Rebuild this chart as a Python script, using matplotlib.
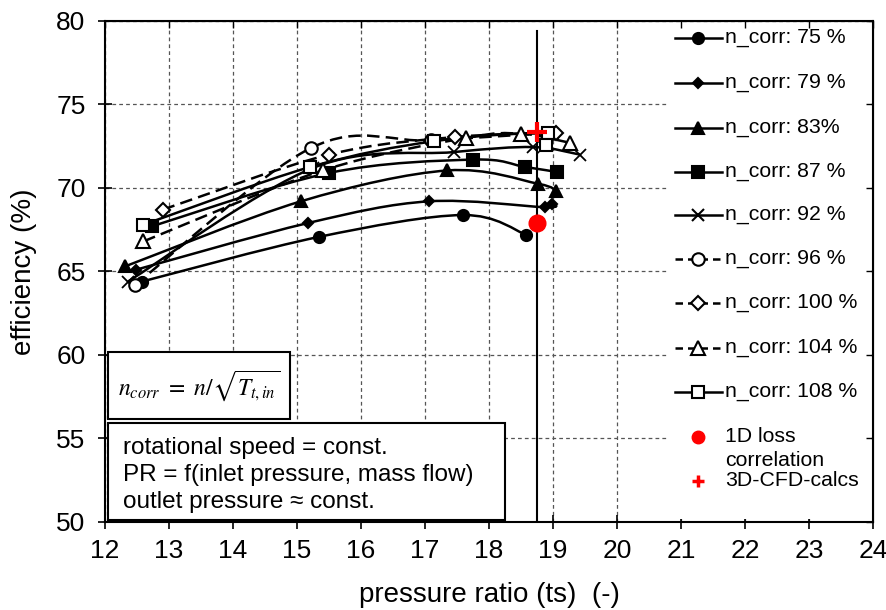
import numpy as np
import matplotlib
matplotlib.use('Agg')
import matplotlib.pyplot as plt
from matplotlib.path import Path
from matplotlib.patches import PathPatch, Rectangle
from matplotlib.lines import Line2D

plt.rcParams['font.family'] = ['Liberation Sans', 'DejaVu Sans']
plt.rcParams['mathtext.fontset'] = 'stix'

# ------------------------------------------------------------------
# data: pressure ratio (ts) and efficiency (%)
# ------------------------------------------------------------------
pr_75 = [12.58, 15.34, 17.59, 18.58]
eff_75 = [64.4, 67.07, 68.38, 67.2]

pr_79 = [12.48, 15.17, 17.06, 18.88, 18.98]
eff_79 = [65.1, 67.9, 69.2, 68.85, 69.05]

pr_83 = [12.31, 15.06, 17.35, 18.77, 19.05]
eff_83 = [65.3, 69.2, 71.05, 70.25, 69.8]

pr_87 = [12.73, 15.5, 17.75, 18.56, 19.06]
eff_87 = [67.7, 70.9, 71.7, 71.26, 70.96]

pr_92 = [12.36, 15.25, 17.45, 18.69, 19.42]
eff_92 = [64.4, 71.2, 72.15, 72.45, 72.0]

pr_96 = [12.47, 15.22, 17.1, 19.0]
eff_96 = [64.2, 72.4, 72.85, 73.3]

pr_100 = [12.9, 15.5, 17.47, 19.05]
eff_100 = [68.7, 72.0, 73.05, 73.3]

pr_104 = [12.6, 15.4, 17.64, 18.5, 19.27]
eff_104 = [66.8, 71.05, 73.0, 73.25, 72.7]

pr_108 = [12.6, 15.2, 17.14, 18.92, 18.89]
eff_108 = [67.8, 71.25, 72.8, 73.3, 72.6]

loss_1d_pr, loss_1d_eff = 18.75, 67.9
cfd_pr, cfd_eff = 18.75, 73.35
design_line_top = 79.4

series = [
    ('n_corr: 75 %', pr_75, eff_75, 'o', 'k', '-', 8),
    ('n_corr: 79 %', pr_79, eff_79, 'D', 'k', '-', 5),
    ('n_corr: 83%', pr_83, eff_83, '^', 'k', '-', 8),
    ('n_corr: 87 %', pr_87, eff_87, 's', 'k', '-', 8),
    ('n_corr: 92 %', pr_92, eff_92, 'x', 'k', '-', 9),
    ('n_corr: 96 %', pr_96, eff_96, 'o', 'w', '--', 9),
    ('n_corr: 100 %', pr_100, eff_100, 'D', 'w', '--', 7),
    ('n_corr: 104 %', pr_104, eff_104, '^', 'w', '--', 10),
    ('n_corr: 108 %', pr_108, eff_108, 's', 'w', '-', 9),
]


def smooth_path(xs, ys):
    # Excel-like smoothed line: Catmull-Rom segments as cubic Bezier
    pts = np.column_stack([xs, ys])
    ext = np.vstack([pts[0], pts, pts[-1]])
    verts = [pts[0]]
    codes = [Path.MOVETO]
    for i in range(1, len(ext) - 2):
        p0, p1, p2, p3 = ext[i - 1], ext[i], ext[i + 1], ext[i + 2]
        verts += [p1 + (p2 - p0) / 6, p2 - (p3 - p1) / 6, p2]
        codes += [Path.CURVE4] * 3
    return Path(verts, codes)


fig = plt.figure(figsize=(8.87, 6.10), dpi=100)
ax = fig.add_axes([0.1184, 0.1443, 0.8658, 0.8213])

for label, xs, ys, mk, fc, ls, ms in series:
    ax.add_patch(PathPatch(smooth_path(xs, ys), fill=False, ec='k', lw=1.8,
                           ls=(0, (5, 2.5)) if ls == '--' else '-', zorder=3))
    ax.plot(xs, ys, ls='none', marker=mk, ms=ms, mfc=fc, mec='k',
            mew=1.5 if mk != 'x' else 1.3, zorder=4)

ax.plot([cfd_pr, cfd_pr], [50, design_line_top], color='k', lw=1.5, zorder=5)
ax.plot(loss_1d_pr, loss_1d_eff, 'o', color='red', ms=12, zorder=6)
ax.plot(cfd_pr, cfd_eff, '+', color='red', ms=14, mew=3, zorder=6)

ax.set_xlim(12, 24)
ax.set_ylim(50, 80)
ax.set_xticks(np.arange(12, 25, 1))
ax.set_yticks(np.arange(50, 81, 5))
ax.grid(True, color='#555555', ls=(0, (3, 2.5)), lw=0.9)
ax.tick_params(direction='inout', length=10, width=1.2, labelsize=19, pad=7)
ax.tick_params(axis='y', pad=9)
for sp in ax.spines.values():
    sp.set_linewidth(1.5)

sec_x = ax.secondary_xaxis('top')
sec_x.set_xticks(np.arange(12, 25, 1))
sec_y = ax.secondary_yaxis('right')
sec_y.set_yticks(np.arange(50, 81, 5))
for sec in (sec_x, sec_y):
    sec.tick_params(direction='in', length=5, width=1.0, labeltop=False,
                    labelright=False)
    sec.set_zorder(20)

ax.set_xlabel('pressure ratio (ts)  (-)', fontsize=20, labelpad=14)
ax.set_ylabel('efficiency (%)', fontsize=20, labelpad=14)

# legend panel
ax.add_patch(Rectangle((0.732, 0.005), 0.266, 0.99, transform=ax.transAxes,
                       fc='white', ec='none', zorder=8))
leg_fs = 15.3
leg_y = [38, 83, 128, 172, 215, 259, 303, 348, 392]
for (label, xs, ys, mk, fc, ls, ms), py in zip(series, leg_y):
    yf = (522 - py) / 501
    ax.add_line(Line2D([0.742, 0.803], [yf, yf], transform=ax.transAxes,
                       color='k', lw=1.8, ls=(0, (3, 2)) if ls == '--' else '-',
                       zorder=9, clip_on=False))
    ax.add_line(Line2D([0.7725], [yf], transform=ax.transAxes, ls='none',
                       marker=mk, ms=ms, mfc=fc, mec='k', mew=1.5, zorder=10,
                       clip_on=False))
    ax.text(0.807, yf, label, transform=ax.transAxes, fontsize=leg_fs,
            va='center', ha='left', zorder=10)

y1d = (522 - 437) / 501
ax.add_line(Line2D([0.7725], [y1d], transform=ax.transAxes, ls='none',
                   marker='o', ms=9, color='red', zorder=10))
ax.text(0.807, y1d, '1D loss', transform=ax.transAxes, fontsize=leg_fs,
        va='center', zorder=10)
ax.text(0.807, (522 - 461) / 501, 'correlation', transform=ax.transAxes,
        fontsize=leg_fs, va='center', zorder=10)
y3d = (522 - 481) / 501
ax.add_line(Line2D([0.7725], [y3d], transform=ax.transAxes, ls='none',
                   marker='+', ms=8, mew=2.5, color='red', zorder=10))
ax.text(0.807, y3d, '3D-CFD-calcs', transform=ax.transAxes, fontsize=leg_fs,
        va='center', zorder=10)

# annotation boxes
ax.add_patch(Rectangle((0.004, 0.2056), 0.237, 0.1334, transform=ax.transAxes,
                       fc='white', ec='k', lw=1.5, zorder=8))
ax.text(0.1225, 0.2723, r'$n_{corr}\ =\ n/\sqrt{T_{t,in}}$', transform=ax.transAxes,
        fontsize=17, ha='center', va='center', zorder=9)
ax.add_patch(Rectangle((0.004, 0.004), 0.517, 0.1936, transform=ax.transAxes,
                       fc='white', ec='k', lw=1.5, zorder=8))
ax.text(0.0234, 0.094,
        'rotational speed = const.\nPR = f(inlet pressure, mass flow)\noutlet pressure \u2248 const.',
        transform=ax.transAxes, fontsize=17.5, ha='left', va='center',
        linespacing=1.3, zorder=9)

fig.savefig('out.png', dpi=100, facecolor='white')
